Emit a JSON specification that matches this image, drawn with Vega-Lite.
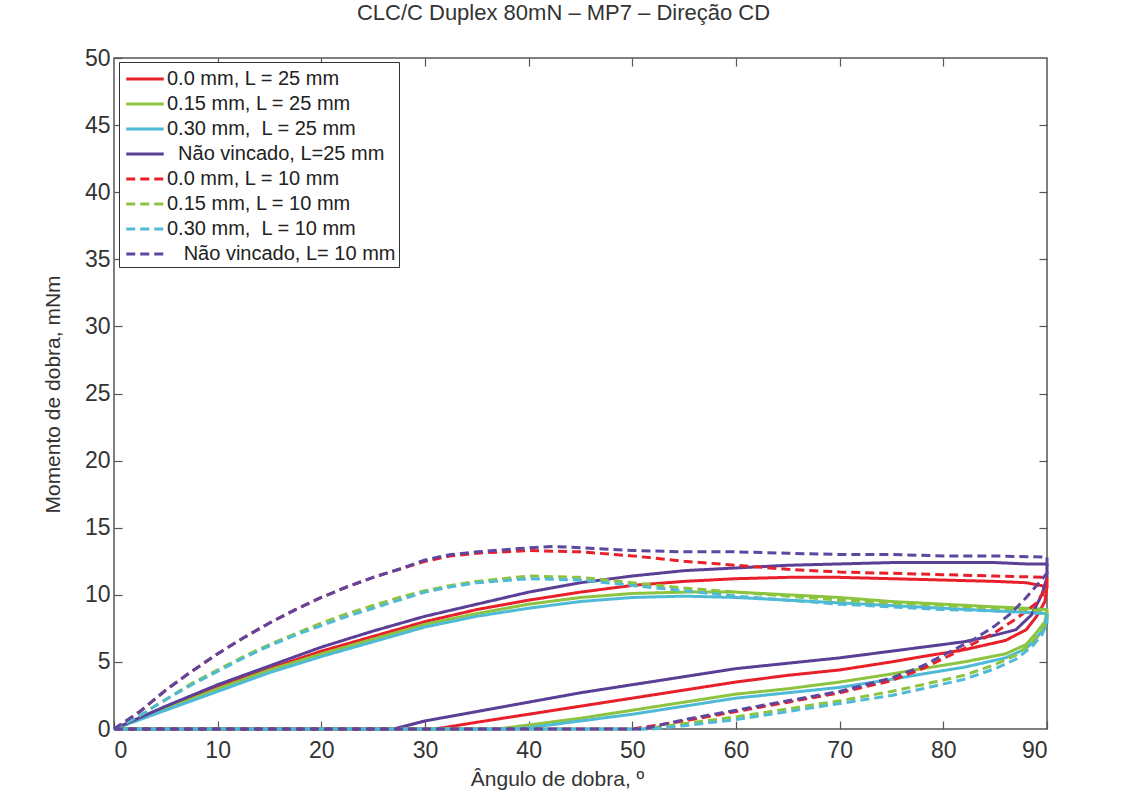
{
 "$schema": "https://vega.github.io/schema/vega-lite/v6.json",
 "width": 933,
 "height": 671,
 "autosize": {"type": "none"},
 "padding": {"left": 114, "top": 58, "right": 90, "bottom": 71},
 "background": "white",
 "title": {"text": "CLC/C Duplex 80mN – MP7 – Direção CD", "fontSize": 22, "font": "Liberation Sans", "fontWeight": "normal", "color": "#333", "anchor": "middle", "dx": -17, "offset": 22},
 "config": {
  "view": {"stroke": "#555", "strokeWidth": 1.5},
  "axis": {"domain": false, "grid": false, "tickColor": "#555", "tickWidth": 1.2, "tickSize": -8, "labelFont": "Liberation Sans", "labelFontSize": 23, "labelColor": "#333", "titleFont": "Liberation Sans", "titleFontSize": 21, "titleFontWeight": "normal", "titleColor": "#333"},
  "legend": {"strokeColor": "#333", "fillColor": "white", "padding": 3, "symbolType": "M-1.5,0H1.5", "symbolStrokeWidth": 3, "symbolSize": 625, "symbolOffset": 9, "labelFontSize": 20, "labelFont": "Liberation Sans", "labelColor": "#222", "labelLimit": 400, "rowPadding": 1, "labelOffset": 8, "cornerRadius": 0}
 },
 "data": {"values": [
  {"s":"0.0 mm, L = 25 mm","a":0,"m":0},{"s":"0.0 mm, L = 25 mm","a":2.5,"m":0.8},{"s":"0.0 mm, L = 25 mm","a":5,"m":1.6},{"s":"0.0 mm, L = 25 mm","a":7.5,"m":2.35},{"s":"0.0 mm, L = 25 mm","a":10,"m":3.1},{"s":"0.0 mm, L = 25 mm","a":15,"m":4.5},{"s":"0.0 mm, L = 25 mm","a":20,"m":5.8},{"s":"0.0 mm, L = 25 mm","a":25,"m":6.9},{"s":"0.0 mm, L = 25 mm","a":30,"m":8.0},{"s":"0.0 mm, L = 25 mm","a":35,"m":8.9},{"s":"0.0 mm, L = 25 mm","a":40,"m":9.6},{"s":"0.0 mm, L = 25 mm","a":45,"m":10.2},{"s":"0.0 mm, L = 25 mm","a":50,"m":10.7},{"s":"0.0 mm, L = 25 mm","a":55,"m":11.0},{"s":"0.0 mm, L = 25 mm","a":60,"m":11.2},{"s":"0.0 mm, L = 25 mm","a":65,"m":11.3},{"s":"0.0 mm, L = 25 mm","a":70,"m":11.3},{"s":"0.0 mm, L = 25 mm","a":75,"m":11.2},{"s":"0.0 mm, L = 25 mm","a":80,"m":11.1},{"s":"0.0 mm, L = 25 mm","a":85,"m":11.0},{"s":"0.0 mm, L = 25 mm","a":88,"m":10.9},{"s":"0.0 mm, L = 25 mm","a":90,"m":10.6},
  {"s":"0.0 mm, L = 25 mm","a":89.8,"m":9.5},{"s":"0.0 mm, L = 25 mm","a":89,"m":8.4},{"s":"0.0 mm, L = 25 mm","a":88,"m":7.4},{"s":"0.0 mm, L = 25 mm","a":86,"m":6.6},{"s":"0.0 mm, L = 25 mm","a":82,"m":5.9},{"s":"0.0 mm, L = 25 mm","a":78,"m":5.4},{"s":"0.0 mm, L = 25 mm","a":75,"m":5.0},{"s":"0.0 mm, L = 25 mm","a":70,"m":4.4},{"s":"0.0 mm, L = 25 mm","a":65,"m":4.0},{"s":"0.0 mm, L = 25 mm","a":60,"m":3.5},{"s":"0.0 mm, L = 25 mm","a":55,"m":2.9},{"s":"0.0 mm, L = 25 mm","a":50,"m":2.3},{"s":"0.0 mm, L = 25 mm","a":45,"m":1.7},{"s":"0.0 mm, L = 25 mm","a":40,"m":1.1},{"s":"0.0 mm, L = 25 mm","a":35,"m":0.5},{"s":"0.0 mm, L = 25 mm","a":31,"m":0},{"s":"0.0 mm, L = 25 mm","a":15,"m":0},{"s":"0.0 mm, L = 25 mm","a":0,"m":0},

  {"s":"0.15 mm, L = 25 mm","a":0,"m":0},{"s":"0.15 mm, L = 25 mm","a":2.5,"m":0.75},{"s":"0.15 mm, L = 25 mm","a":5,"m":1.5},{"s":"0.15 mm, L = 25 mm","a":7.5,"m":2.25},{"s":"0.15 mm, L = 25 mm","a":10,"m":3.0},{"s":"0.15 mm, L = 25 mm","a":15,"m":4.4},{"s":"0.15 mm, L = 25 mm","a":20,"m":5.6},{"s":"0.15 mm, L = 25 mm","a":25,"m":6.7},{"s":"0.15 mm, L = 25 mm","a":30,"m":7.8},{"s":"0.15 mm, L = 25 mm","a":35,"m":8.6},{"s":"0.15 mm, L = 25 mm","a":40,"m":9.3},{"s":"0.15 mm, L = 25 mm","a":45,"m":9.8},{"s":"0.15 mm, L = 25 mm","a":50,"m":10.1},{"s":"0.15 mm, L = 25 mm","a":55,"m":10.2},{"s":"0.15 mm, L = 25 mm","a":60,"m":10.2},{"s":"0.15 mm, L = 25 mm","a":65,"m":10.0},{"s":"0.15 mm, L = 25 mm","a":70,"m":9.8},{"s":"0.15 mm, L = 25 mm","a":75,"m":9.5},{"s":"0.15 mm, L = 25 mm","a":80,"m":9.3},{"s":"0.15 mm, L = 25 mm","a":85,"m":9.1},{"s":"0.15 mm, L = 25 mm","a":88,"m":9.0},{"s":"0.15 mm, L = 25 mm","a":90,"m":8.9},
  {"s":"0.15 mm, L = 25 mm","a":89.8,"m":8.0},{"s":"0.15 mm, L = 25 mm","a":89,"m":7.2},{"s":"0.15 mm, L = 25 mm","a":88,"m":6.3},{"s":"0.15 mm, L = 25 mm","a":86,"m":5.6},{"s":"0.15 mm, L = 25 mm","a":82,"m":5.0},{"s":"0.15 mm, L = 25 mm","a":78,"m":4.5},{"s":"0.15 mm, L = 25 mm","a":75,"m":4.1},{"s":"0.15 mm, L = 25 mm","a":70,"m":3.5},{"s":"0.15 mm, L = 25 mm","a":65,"m":3.0},{"s":"0.15 mm, L = 25 mm","a":60,"m":2.6},{"s":"0.15 mm, L = 25 mm","a":55,"m":2.0},{"s":"0.15 mm, L = 25 mm","a":50,"m":1.4},{"s":"0.15 mm, L = 25 mm","a":45,"m":0.8},{"s":"0.15 mm, L = 25 mm","a":40,"m":0.3},{"s":"0.15 mm, L = 25 mm","a":37,"m":0},{"s":"0.15 mm, L = 25 mm","a":15,"m":0},{"s":"0.15 mm, L = 25 mm","a":0,"m":0},

  {"s":"0.30 mm,\u00a0 L = 25 mm","a":0,"m":0},{"s":"0.30 mm,\u00a0 L = 25 mm","a":2.5,"m":0.7},{"s":"0.30 mm,\u00a0 L = 25 mm","a":5,"m":1.4},{"s":"0.30 mm,\u00a0 L = 25 mm","a":7.5,"m":2.1},{"s":"0.30 mm,\u00a0 L = 25 mm","a":10,"m":2.8},{"s":"0.30 mm,\u00a0 L = 25 mm","a":15,"m":4.2},{"s":"0.30 mm,\u00a0 L = 25 mm","a":20,"m":5.4},{"s":"0.30 mm,\u00a0 L = 25 mm","a":25,"m":6.5},{"s":"0.30 mm,\u00a0 L = 25 mm","a":30,"m":7.6},{"s":"0.30 mm,\u00a0 L = 25 mm","a":35,"m":8.4},{"s":"0.30 mm,\u00a0 L = 25 mm","a":40,"m":9.0},{"s":"0.30 mm,\u00a0 L = 25 mm","a":45,"m":9.5},{"s":"0.30 mm,\u00a0 L = 25 mm","a":50,"m":9.8},{"s":"0.30 mm,\u00a0 L = 25 mm","a":55,"m":9.9},{"s":"0.30 mm,\u00a0 L = 25 mm","a":60,"m":9.8},{"s":"0.30 mm,\u00a0 L = 25 mm","a":65,"m":9.6},{"s":"0.30 mm,\u00a0 L = 25 mm","a":70,"m":9.4},{"s":"0.30 mm,\u00a0 L = 25 mm","a":75,"m":9.2},{"s":"0.30 mm,\u00a0 L = 25 mm","a":80,"m":9.0},{"s":"0.30 mm,\u00a0 L = 25 mm","a":85,"m":8.8},{"s":"0.30 mm,\u00a0 L = 25 mm","a":88,"m":8.7},{"s":"0.30 mm,\u00a0 L = 25 mm","a":90,"m":8.6},
  {"s":"0.30 mm,\u00a0 L = 25 mm","a":89.8,"m":7.6},{"s":"0.30 mm,\u00a0 L = 25 mm","a":89,"m":6.8},{"s":"0.30 mm,\u00a0 L = 25 mm","a":88,"m":6.0},{"s":"0.30 mm,\u00a0 L = 25 mm","a":86,"m":5.3},{"s":"0.30 mm,\u00a0 L = 25 mm","a":82,"m":4.6},{"s":"0.30 mm,\u00a0 L = 25 mm","a":78,"m":4.1},{"s":"0.30 mm,\u00a0 L = 25 mm","a":75,"m":3.7},{"s":"0.30 mm,\u00a0 L = 25 mm","a":70,"m":3.1},{"s":"0.30 mm,\u00a0 L = 25 mm","a":65,"m":2.7},{"s":"0.30 mm,\u00a0 L = 25 mm","a":60,"m":2.3},{"s":"0.30 mm,\u00a0 L = 25 mm","a":55,"m":1.7},{"s":"0.30 mm,\u00a0 L = 25 mm","a":50,"m":1.1},{"s":"0.30 mm,\u00a0 L = 25 mm","a":45,"m":0.6},{"s":"0.30 mm,\u00a0 L = 25 mm","a":40,"m":0.1},{"s":"0.30 mm,\u00a0 L = 25 mm","a":38,"m":0},{"s":"0.30 mm,\u00a0 L = 25 mm","a":15,"m":0},{"s":"0.30 mm,\u00a0 L = 25 mm","a":0,"m":0},

  {"s":"\u200b\u00a0\u00a0Não vincado, L=25 mm","a":0,"m":0},{"s":"\u200b\u00a0\u00a0Não vincado, L=25 mm","a":2.5,"m":0.85},{"s":"\u200b\u00a0\u00a0Não vincado, L=25 mm","a":5,"m":1.7},{"s":"\u200b\u00a0\u00a0Não vincado, L=25 mm","a":7.5,"m":2.5},{"s":"\u200b\u00a0\u00a0Não vincado, L=25 mm","a":10,"m":3.3},{"s":"\u200b\u00a0\u00a0Não vincado, L=25 mm","a":15,"m":4.7},{"s":"\u200b\u00a0\u00a0Não vincado, L=25 mm","a":20,"m":6.1},{"s":"\u200b\u00a0\u00a0Não vincado, L=25 mm","a":25,"m":7.3},{"s":"\u200b\u00a0\u00a0Não vincado, L=25 mm","a":30,"m":8.4},{"s":"\u200b\u00a0\u00a0Não vincado, L=25 mm","a":35,"m":9.3},{"s":"\u200b\u00a0\u00a0Não vincado, L=25 mm","a":40,"m":10.2},{"s":"\u200b\u00a0\u00a0Não vincado, L=25 mm","a":45,"m":10.9},{"s":"\u200b\u00a0\u00a0Não vincado, L=25 mm","a":50,"m":11.4},{"s":"\u200b\u00a0\u00a0Não vincado, L=25 mm","a":55,"m":11.8},{"s":"\u200b\u00a0\u00a0Não vincado, L=25 mm","a":60,"m":12.0},{"s":"\u200b\u00a0\u00a0Não vincado, L=25 mm","a":65,"m":12.2},{"s":"\u200b\u00a0\u00a0Não vincado, L=25 mm","a":70,"m":12.3},{"s":"\u200b\u00a0\u00a0Não vincado, L=25 mm","a":75,"m":12.4},{"s":"\u200b\u00a0\u00a0Não vincado, L=25 mm","a":80,"m":12.4},{"s":"\u200b\u00a0\u00a0Não vincado, L=25 mm","a":85,"m":12.4},{"s":"\u200b\u00a0\u00a0Não vincado, L=25 mm","a":88,"m":12.3},{"s":"\u200b\u00a0\u00a0Não vincado, L=25 mm","a":90,"m":12.3},
  {"s":"\u200b\u00a0\u00a0Não vincado, L=25 mm","a":90,"m":11.3},{"s":"\u200b\u00a0\u00a0Não vincado, L=25 mm","a":89.5,"m":10.0},{"s":"\u200b\u00a0\u00a0Não vincado, L=25 mm","a":88.5,"m":8.5},{"s":"\u200b\u00a0\u00a0Não vincado, L=25 mm","a":87,"m":7.4},{"s":"\u200b\u00a0\u00a0Não vincado, L=25 mm","a":85,"m":7.0},{"s":"\u200b\u00a0\u00a0Não vincado, L=25 mm","a":82,"m":6.5},{"s":"\u200b\u00a0\u00a0Não vincado, L=25 mm","a":78,"m":6.1},{"s":"\u200b\u00a0\u00a0Não vincado, L=25 mm","a":75,"m":5.8},{"s":"\u200b\u00a0\u00a0Não vincado, L=25 mm","a":70,"m":5.3},{"s":"\u200b\u00a0\u00a0Não vincado, L=25 mm","a":65,"m":4.9},{"s":"\u200b\u00a0\u00a0Não vincado, L=25 mm","a":60,"m":4.5},{"s":"\u200b\u00a0\u00a0Não vincado, L=25 mm","a":55,"m":3.9},{"s":"\u200b\u00a0\u00a0Não vincado, L=25 mm","a":50,"m":3.3},{"s":"\u200b\u00a0\u00a0Não vincado, L=25 mm","a":45,"m":2.7},{"s":"\u200b\u00a0\u00a0Não vincado, L=25 mm","a":40,"m":2.0},{"s":"\u200b\u00a0\u00a0Não vincado, L=25 mm","a":35,"m":1.3},{"s":"\u200b\u00a0\u00a0Não vincado, L=25 mm","a":30,"m":0.6},{"s":"\u200b\u00a0\u00a0Não vincado, L=25 mm","a":27,"m":0},{"s":"\u200b\u00a0\u00a0Não vincado, L=25 mm","a":15,"m":0},{"s":"\u200b\u00a0\u00a0Não vincado, L=25 mm","a":0,"m":0},

  {"s":"0.0 mm, L = 10 mm","a":0,"m":0},{"s":"0.0 mm, L = 10 mm","a":2.5,"m":1.3},{"s":"0.0 mm, L = 10 mm","a":5,"m":2.9},{"s":"0.0 mm, L = 10 mm","a":7.5,"m":4.3},{"s":"0.0 mm, L = 10 mm","a":10,"m":5.6},{"s":"0.0 mm, L = 10 mm","a":12.5,"m":6.8},{"s":"0.0 mm, L = 10 mm","a":15,"m":7.9},{"s":"0.0 mm, L = 10 mm","a":17.5,"m":8.9},{"s":"0.0 mm, L = 10 mm","a":20,"m":9.8},{"s":"0.0 mm, L = 10 mm","a":22.5,"m":10.6},{"s":"0.0 mm, L = 10 mm","a":25,"m":11.3},{"s":"0.0 mm, L = 10 mm","a":27.5,"m":11.9},{"s":"0.0 mm, L = 10 mm","a":30,"m":12.5},{"s":"0.0 mm, L = 10 mm","a":32.5,"m":12.9},{"s":"0.0 mm, L = 10 mm","a":35,"m":13.1},{"s":"0.0 mm, L = 10 mm","a":40,"m":13.3},{"s":"0.0 mm, L = 10 mm","a":45,"m":13.2},{"s":"0.0 mm, L = 10 mm","a":50,"m":12.9},{"s":"0.0 mm, L = 10 mm","a":55,"m":12.5},{"s":"0.0 mm, L = 10 mm","a":60,"m":12.2},{"s":"0.0 mm, L = 10 mm","a":65,"m":11.9},{"s":"0.0 mm, L = 10 mm","a":70,"m":11.7},{"s":"0.0 mm, L = 10 mm","a":75,"m":11.6},{"s":"0.0 mm, L = 10 mm","a":80,"m":11.5},{"s":"0.0 mm, L = 10 mm","a":85,"m":11.4},{"s":"0.0 mm, L = 10 mm","a":90,"m":11.3},
  {"s":"0.0 mm, L = 10 mm","a":90,"m":10.6},{"s":"0.0 mm, L = 10 mm","a":89,"m":9.4},{"s":"0.0 mm, L = 10 mm","a":87,"m":8.2},{"s":"0.0 mm, L = 10 mm","a":85,"m":7.2},{"s":"0.0 mm, L = 10 mm","a":82,"m":6.0},{"s":"0.0 mm, L = 10 mm","a":78,"m":4.5},{"s":"0.0 mm, L = 10 mm","a":75,"m":3.6},{"s":"0.0 mm, L = 10 mm","a":70,"m":2.7},{"s":"0.0 mm, L = 10 mm","a":65,"m":2.0},{"s":"0.0 mm, L = 10 mm","a":60,"m":1.3},{"s":"0.0 mm, L = 10 mm","a":55,"m":0.6},{"s":"0.0 mm, L = 10 mm","a":50,"m":0},{"s":"0.0 mm, L = 10 mm","a":25,"m":0},{"s":"0.0 mm, L = 10 mm","a":0,"m":0},

  {"s":"0.15 mm, L = 10 mm","a":0,"m":0},{"s":"0.15 mm, L = 10 mm","a":2.5,"m":1.0},{"s":"0.15 mm, L = 10 mm","a":5,"m":2.2},{"s":"0.15 mm, L = 10 mm","a":7.5,"m":3.4},{"s":"0.15 mm, L = 10 mm","a":10,"m":4.4},{"s":"0.15 mm, L = 10 mm","a":12.5,"m":5.4},{"s":"0.15 mm, L = 10 mm","a":15,"m":6.3},{"s":"0.15 mm, L = 10 mm","a":17.5,"m":7.1},{"s":"0.15 mm, L = 10 mm","a":20,"m":7.9},{"s":"0.15 mm, L = 10 mm","a":22.5,"m":8.6},{"s":"0.15 mm, L = 10 mm","a":25,"m":9.2},{"s":"0.15 mm, L = 10 mm","a":27.5,"m":9.8},{"s":"0.15 mm, L = 10 mm","a":30,"m":10.3},{"s":"0.15 mm, L = 10 mm","a":32.5,"m":10.7},{"s":"0.15 mm, L = 10 mm","a":35,"m":11.0},{"s":"0.15 mm, L = 10 mm","a":40,"m":11.4},{"s":"0.15 mm, L = 10 mm","a":45,"m":11.3},{"s":"0.15 mm, L = 10 mm","a":50,"m":10.9},{"s":"0.15 mm, L = 10 mm","a":55,"m":10.5},{"s":"0.15 mm, L = 10 mm","a":60,"m":10.2},{"s":"0.15 mm, L = 10 mm","a":65,"m":9.9},{"s":"0.15 mm, L = 10 mm","a":70,"m":9.6},{"s":"0.15 mm, L = 10 mm","a":75,"m":9.4},{"s":"0.15 mm, L = 10 mm","a":80,"m":9.2},{"s":"0.15 mm, L = 10 mm","a":85,"m":9.0},{"s":"0.15 mm, L = 10 mm","a":90,"m":8.8},
  {"s":"0.15 mm, L = 10 mm","a":90,"m":8.2},{"s":"0.15 mm, L = 10 mm","a":89.5,"m":7.3},{"s":"0.15 mm, L = 10 mm","a":88.5,"m":6.4},{"s":"0.15 mm, L = 10 mm","a":87,"m":5.5},{"s":"0.15 mm, L = 10 mm","a":85,"m":4.8},{"s":"0.15 mm, L = 10 mm","a":82,"m":4.0},{"s":"0.15 mm, L = 10 mm","a":78,"m":3.3},{"s":"0.15 mm, L = 10 mm","a":75,"m":2.8},{"s":"0.15 mm, L = 10 mm","a":70,"m":2.1},{"s":"0.15 mm, L = 10 mm","a":65,"m":1.5},{"s":"0.15 mm, L = 10 mm","a":60,"m":0.9},{"s":"0.15 mm, L = 10 mm","a":55,"m":0.4},{"s":"0.15 mm, L = 10 mm","a":51,"m":0},{"s":"0.15 mm, L = 10 mm","a":25,"m":0},{"s":"0.15 mm, L = 10 mm","a":0,"m":0},

  {"s":"0.30 mm,\u00a0 L = 10 mm","a":0,"m":0},{"s":"0.30 mm,\u00a0 L = 10 mm","a":2.5,"m":1.0},{"s":"0.30 mm,\u00a0 L = 10 mm","a":5,"m":2.2},{"s":"0.30 mm,\u00a0 L = 10 mm","a":7.5,"m":3.3},{"s":"0.30 mm,\u00a0 L = 10 mm","a":10,"m":4.3},{"s":"0.30 mm,\u00a0 L = 10 mm","a":12.5,"m":5.3},{"s":"0.30 mm,\u00a0 L = 10 mm","a":15,"m":6.2},{"s":"0.30 mm,\u00a0 L = 10 mm","a":17.5,"m":7.0},{"s":"0.30 mm,\u00a0 L = 10 mm","a":20,"m":7.7},{"s":"0.30 mm,\u00a0 L = 10 mm","a":22.5,"m":8.4},{"s":"0.30 mm,\u00a0 L = 10 mm","a":25,"m":9.0},{"s":"0.30 mm,\u00a0 L = 10 mm","a":27.5,"m":9.6},{"s":"0.30 mm,\u00a0 L = 10 mm","a":30,"m":10.2},{"s":"0.30 mm,\u00a0 L = 10 mm","a":32.5,"m":10.6},{"s":"0.30 mm,\u00a0 L = 10 mm","a":35,"m":10.9},{"s":"0.30 mm,\u00a0 L = 10 mm","a":40,"m":11.2},{"s":"0.30 mm,\u00a0 L = 10 mm","a":45,"m":11.1},{"s":"0.30 mm,\u00a0 L = 10 mm","a":50,"m":10.7},{"s":"0.30 mm,\u00a0 L = 10 mm","a":55,"m":10.3},{"s":"0.30 mm,\u00a0 L = 10 mm","a":60,"m":9.9},{"s":"0.30 mm,\u00a0 L = 10 mm","a":65,"m":9.6},{"s":"0.30 mm,\u00a0 L = 10 mm","a":70,"m":9.3},{"s":"0.30 mm,\u00a0 L = 10 mm","a":75,"m":9.1},{"s":"0.30 mm,\u00a0 L = 10 mm","a":80,"m":8.9},{"s":"0.30 mm,\u00a0 L = 10 mm","a":85,"m":8.8},{"s":"0.30 mm,\u00a0 L = 10 mm","a":90,"m":8.6},
  {"s":"0.30 mm,\u00a0 L = 10 mm","a":90,"m":7.9},{"s":"0.30 mm,\u00a0 L = 10 mm","a":89.5,"m":7.0},{"s":"0.30 mm,\u00a0 L = 10 mm","a":88.5,"m":6.1},{"s":"0.30 mm,\u00a0 L = 10 mm","a":87,"m":5.2},{"s":"0.30 mm,\u00a0 L = 10 mm","a":85,"m":4.5},{"s":"0.30 mm,\u00a0 L = 10 mm","a":82,"m":3.7},{"s":"0.30 mm,\u00a0 L = 10 mm","a":78,"m":3.0},{"s":"0.30 mm,\u00a0 L = 10 mm","a":75,"m":2.5},{"s":"0.30 mm,\u00a0 L = 10 mm","a":70,"m":1.9},{"s":"0.30 mm,\u00a0 L = 10 mm","a":65,"m":1.3},{"s":"0.30 mm,\u00a0 L = 10 mm","a":60,"m":0.7},{"s":"0.30 mm,\u00a0 L = 10 mm","a":55,"m":0.25},{"s":"0.30 mm,\u00a0 L = 10 mm","a":52,"m":0},{"s":"0.30 mm,\u00a0 L = 10 mm","a":25,"m":0},{"s":"0.30 mm,\u00a0 L = 10 mm","a":0,"m":0},

  {"s":"\u200b\u00a0\u00a0\u00a0Não vincado, L= 10 mm","a":0,"m":0},{"s":"\u200b\u00a0\u00a0\u00a0Não vincado, L= 10 mm","a":2.5,"m":1.3},{"s":"\u200b\u00a0\u00a0\u00a0Não vincado, L= 10 mm","a":5,"m":2.9},{"s":"\u200b\u00a0\u00a0\u00a0Não vincado, L= 10 mm","a":7.5,"m":4.3},{"s":"\u200b\u00a0\u00a0\u00a0Não vincado, L= 10 mm","a":10,"m":5.6},{"s":"\u200b\u00a0\u00a0\u00a0Não vincado, L= 10 mm","a":12.5,"m":6.8},{"s":"\u200b\u00a0\u00a0\u00a0Não vincado, L= 10 mm","a":15,"m":7.9},{"s":"\u200b\u00a0\u00a0\u00a0Não vincado, L= 10 mm","a":17.5,"m":8.9},{"s":"\u200b\u00a0\u00a0\u00a0Não vincado, L= 10 mm","a":20,"m":9.8},{"s":"\u200b\u00a0\u00a0\u00a0Não vincado, L= 10 mm","a":22.5,"m":10.6},{"s":"\u200b\u00a0\u00a0\u00a0Não vincado, L= 10 mm","a":25,"m":11.3},{"s":"\u200b\u00a0\u00a0\u00a0Não vincado, L= 10 mm","a":27.5,"m":11.9},{"s":"\u200b\u00a0\u00a0\u00a0Não vincado, L= 10 mm","a":30,"m":12.6},{"s":"\u200b\u00a0\u00a0\u00a0Não vincado, L= 10 mm","a":32.5,"m":13.0},{"s":"\u200b\u00a0\u00a0\u00a0Não vincado, L= 10 mm","a":35,"m":13.2},{"s":"\u200b\u00a0\u00a0\u00a0Não vincado, L= 10 mm","a":40,"m":13.5},{"s":"\u200b\u00a0\u00a0\u00a0Não vincado, L= 10 mm","a":42.5,"m":13.6},{"s":"\u200b\u00a0\u00a0\u00a0Não vincado, L= 10 mm","a":45,"m":13.5},{"s":"\u200b\u00a0\u00a0\u00a0Não vincado, L= 10 mm","a":50,"m":13.3},{"s":"\u200b\u00a0\u00a0\u00a0Não vincado, L= 10 mm","a":55,"m":13.2},{"s":"\u200b\u00a0\u00a0\u00a0Não vincado, L= 10 mm","a":60,"m":13.2},{"s":"\u200b\u00a0\u00a0\u00a0Não vincado, L= 10 mm","a":65,"m":13.1},{"s":"\u200b\u00a0\u00a0\u00a0Não vincado, L= 10 mm","a":70,"m":13.0},{"s":"\u200b\u00a0\u00a0\u00a0Não vincado, L= 10 mm","a":75,"m":13.0},{"s":"\u200b\u00a0\u00a0\u00a0Não vincado, L= 10 mm","a":80,"m":12.9},{"s":"\u200b\u00a0\u00a0\u00a0Não vincado, L= 10 mm","a":85,"m":12.9},{"s":"\u200b\u00a0\u00a0\u00a0Não vincado, L= 10 mm","a":90,"m":12.8},
  {"s":"\u200b\u00a0\u00a0\u00a0Não vincado, L= 10 mm","a":90,"m":11.6},{"s":"\u200b\u00a0\u00a0\u00a0Não vincado, L= 10 mm","a":89,"m":10.7},{"s":"\u200b\u00a0\u00a0\u00a0Não vincado, L= 10 mm","a":88,"m":9.8},{"s":"\u200b\u00a0\u00a0\u00a0Não vincado, L= 10 mm","a":86.5,"m":8.6},{"s":"\u200b\u00a0\u00a0\u00a0Não vincado, L= 10 mm","a":85,"m":7.7},{"s":"\u200b\u00a0\u00a0\u00a0Não vincado, L= 10 mm","a":83,"m":6.7},{"s":"\u200b\u00a0\u00a0\u00a0Não vincado, L= 10 mm","a":80.5,"m":5.7},{"s":"\u200b\u00a0\u00a0\u00a0Não vincado, L= 10 mm","a":78,"m":4.7},{"s":"\u200b\u00a0\u00a0\u00a0Não vincado, L= 10 mm","a":75,"m":3.8},{"s":"\u200b\u00a0\u00a0\u00a0Não vincado, L= 10 mm","a":70,"m":2.8},{"s":"\u200b\u00a0\u00a0\u00a0Não vincado, L= 10 mm","a":65,"m":2.1},{"s":"\u200b\u00a0\u00a0\u00a0Não vincado, L= 10 mm","a":60,"m":1.4},{"s":"\u200b\u00a0\u00a0\u00a0Não vincado, L= 10 mm","a":55,"m":0.7},{"s":"\u200b\u00a0\u00a0\u00a0Não vincado, L= 10 mm","a":51,"m":0},{"s":"\u200b\u00a0\u00a0\u00a0Não vincado, L= 10 mm","a":25,"m":0},{"s":"\u200b\u00a0\u00a0\u00a0Não vincado, L= 10 mm","a":0,"m":0}
 ]},
 "layer": [
  {
   "mark": {"type": "line", "strokeWidth": 3, "interpolate": "linear", "strokeJoin": "round"},
   "encoding": {
    "x": {"field": "a", "type": "quantitative", "scale": {"domain": [0, 90], "nice": false, "zero": false},
          "axis": {"values": [0,10,20,30,40,50,60,70,80,90], "labelPadding": 18, "title": "Ângulo de dobra, º", "titleX": 443, "titleY": 50, "titleBaseline": "middle", "titleAlign": "center"}},
    "y": {"field": "m", "type": "quantitative", "scale": {"domain": [0, 50], "nice": false},
          "axis": {"values": [0,5,10,15,20,25,30,35,40,45,50], "labelPadding": 12, "title": "Momento de dobra, mNm", "titleX": -61, "titleY": 336, "titleAngle": -90, "titleBaseline": "middle", "titleAlign": "center"}},
    "color": {"field": "s", "type": "nominal",
      "scale": {"domain": ["0.0 mm, L = 25 mm", "0.15 mm, L = 25 mm", "0.30 mm,\u00a0 L = 25 mm", "\u200b\u00a0\u00a0Não vincado, L=25 mm", "0.0 mm, L = 10 mm", "0.15 mm, L = 10 mm", "0.30 mm,\u00a0 L = 10 mm", "\u200b\u00a0\u00a0\u00a0Não vincado, L= 10 mm"],
                "range": ["#e8202a", "#8cc43f", "#4fbad6", "#5b3e96", "#e8202a", "#8cc43f", "#4fbad6", "#5d47a0"]},
      "legend": {"orient": "none", "legendX": 5, "legendY": 4, "title": null}},
    "strokeDash": {"field": "s", "type": "nominal",
      "scale": {"domain": ["0.0 mm, L = 25 mm", "0.15 mm, L = 25 mm", "0.30 mm,\u00a0 L = 25 mm", "\u200b\u00a0\u00a0Não vincado, L=25 mm", "0.0 mm, L = 10 mm", "0.15 mm, L = 10 mm", "0.30 mm,\u00a0 L = 10 mm", "\u200b\u00a0\u00a0\u00a0Não vincado, L= 10 mm"],
                "range": [[1,0], [1,0], [1,0], [1,0], [9,5], [9,5], [9,5], [9,5]]},
      "legend": {"orient": "none", "legendX": 5, "legendY": 4, "title": null}},
    "order": {"value": null}
   }
  },
  {
   "mark": {"type": "point", "opacity": 0},
   "encoding": {
    "x": {"field": "a", "type": "quantitative", "axis": {"orient": "top", "values": [10,20,30,40,50,60,70,80], "labels": false, "title": null}},
    "y": {"field": "m", "type": "quantitative", "axis": {"orient": "right", "values": [5,10,15,20,25,30,35,40,45], "labels": false, "title": null}}
   }
  }
 ],
 "resolve": {"axis": {"x": "independent", "y": "independent"}}
}
